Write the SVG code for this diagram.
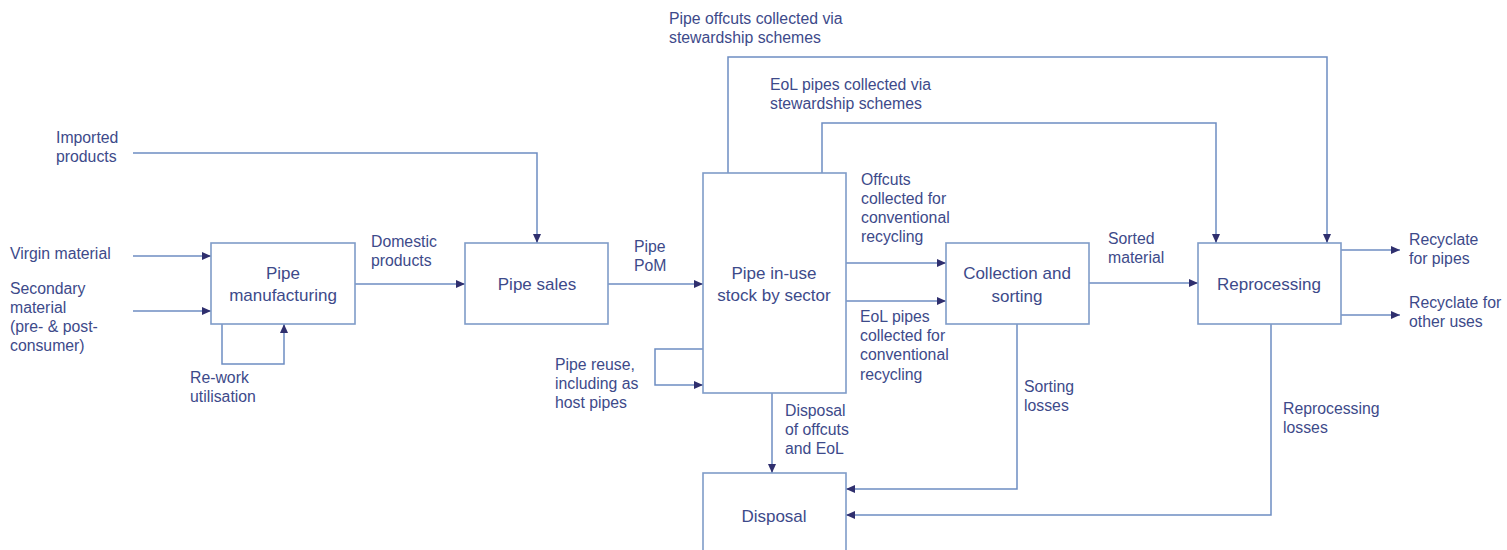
<svg xmlns="http://www.w3.org/2000/svg" width="1507" height="550" viewBox="0 0 1507 550">
<style>
.box{fill:#fff;stroke:#7f9cc8;stroke-width:1.6}
.ln{fill:none;stroke:#6e8dc2;stroke-width:1.5}
.lbl{font-family:"Liberation Sans",Arial,sans-serif;font-size:15.8px;fill:#3d4a8a}
.bl{font-family:"Liberation Sans",Arial,sans-serif;font-size:17px;fill:#3d4a8a;text-anchor:middle}
</style>
<defs>
<marker id="ah" markerUnits="userSpaceOnUse" markerWidth="9" markerHeight="8" refX="9" refY="4" orient="auto">
<path d="M0,0 L9,4 L0,8 z" fill="#2f2f6e"/>
</marker>
</defs>
<rect width="1507" height="550" fill="#fff"/>
<g id="connectors">
<path class="ln" d="M133,153 H537 V243" marker-end="url(#ah)"/>
<path class="ln" d="M133,256 H211" marker-end="url(#ah)"/>
<path class="ln" d="M133,311 H211" marker-end="url(#ah)"/>
<path class="ln" d="M222,324 V364 H284 V324" marker-end="url(#ah)"/>
<path class="ln" d="M355,284 H465" marker-end="url(#ah)"/>
<path class="ln" d="M608,284 H703" marker-end="url(#ah)"/>
<path class="ln" d="M703,349 H655 V385 H703" marker-end="url(#ah)"/>
<path class="ln" d="M728,173 V57 H1327 V243" marker-end="url(#ah)"/>
<path class="ln" d="M822,173 V123 H1216 V243" marker-end="url(#ah)"/>
<path class="ln" d="M846,263 H946" marker-end="url(#ah)"/>
<path class="ln" d="M846,301 H946" marker-end="url(#ah)"/>
<path class="ln" d="M1089,283 H1198" marker-end="url(#ah)"/>
<path class="ln" d="M1341,250 H1400" marker-end="url(#ah)"/>
<path class="ln" d="M1341,315 H1400" marker-end="url(#ah)"/>
<path class="ln" d="M772,393 V473" marker-end="url(#ah)"/>
<path class="ln" d="M1017,324 V489 H846" marker-end="url(#ah)"/>
<path class="ln" d="M1271,324 V515 H846" marker-end="url(#ah)"/>
</g>
<g id="manufacturing"><rect class="box" x="211" y="243" width="144" height="81"/><text class="bl" x="283" y="279">Pipe</text><text class="bl" x="283" y="301">manufacturing</text></g>
<g id="sales"><rect class="box" x="465" y="243" width="143" height="81"/><text class="bl" x="537" y="290">Pipe sales</text></g>
<g id="stock"><rect class="box" x="703" y="173" width="143" height="220"/><text class="bl" x="774" y="279">Pipe in-use</text><text class="bl" x="774" y="301">stock by sector</text></g>
<g id="collection"><rect class="box" x="946" y="243" width="143" height="81"/><text class="bl" x="1017" y="279">Collection and</text><text class="bl" x="1017" y="302">sorting</text></g>
<g id="reprocessing"><rect class="box" x="1198" y="243" width="143" height="81"/><text class="bl" x="1269" y="290">Reprocessing</text></g>
<g id="disposal"><rect class="box" x="703" y="473" width="143" height="90"/><text class="bl" x="774" y="522">Disposal</text></g>
<g id="labels">
<text class="lbl" x="669" y="24">Pipe offcuts collected via</text>
<text class="lbl" x="669" y="43">stewardship schemes</text>
<text class="lbl" x="770" y="90">EoL pipes collected via</text>
<text class="lbl" x="770" y="109">stewardship schemes</text>
<text class="lbl" x="56" y="143">Imported</text>
<text class="lbl" x="56" y="162">products</text>
<text class="lbl" x="10" y="259">Virgin material</text>
<text class="lbl" x="10" y="294">Secondary</text>
<text class="lbl" x="10" y="313">material</text>
<text class="lbl" x="10" y="332">(pre- &amp; post-</text>
<text class="lbl" x="10" y="351">consumer)</text>
<text class="lbl" x="190" y="383">Re-work</text>
<text class="lbl" x="190" y="402">utilisation</text>
<text class="lbl" x="371" y="247">Domestic</text>
<text class="lbl" x="371" y="266">products</text>
<text class="lbl" x="634" y="252">Pipe</text>
<text class="lbl" x="634" y="271">PoM</text>
<text class="lbl" x="555" y="370">Pipe reuse,</text>
<text class="lbl" x="555" y="389">including as</text>
<text class="lbl" x="555" y="408">host pipes</text>
<text class="lbl" x="861" y="185">Offcuts</text>
<text class="lbl" x="861" y="204">collected for</text>
<text class="lbl" x="861" y="223">conventional</text>
<text class="lbl" x="861" y="242">recycling</text>
<text class="lbl" x="860" y="322">EoL pipes</text>
<text class="lbl" x="860" y="341">collected for</text>
<text class="lbl" x="860" y="360">conventional</text>
<text class="lbl" x="860" y="380">recycling</text>
<text class="lbl" x="785" y="416">Disposal</text>
<text class="lbl" x="785" y="435">of offcuts</text>
<text class="lbl" x="785" y="454">and EoL</text>
<text class="lbl" x="1024" y="392">Sorting</text>
<text class="lbl" x="1024" y="411">losses</text>
<text class="lbl" x="1108" y="244">Sorted</text>
<text class="lbl" x="1108" y="263">material</text>
<text class="lbl" x="1283" y="414">Reprocessing</text>
<text class="lbl" x="1283" y="433">losses</text>
<text class="lbl" x="1409" y="245">Recyclate</text>
<text class="lbl" x="1409" y="264">for pipes</text>
<text class="lbl" x="1409" y="308">Recyclate for</text>
<text class="lbl" x="1409" y="327">other uses</text>
</g>
</svg>
